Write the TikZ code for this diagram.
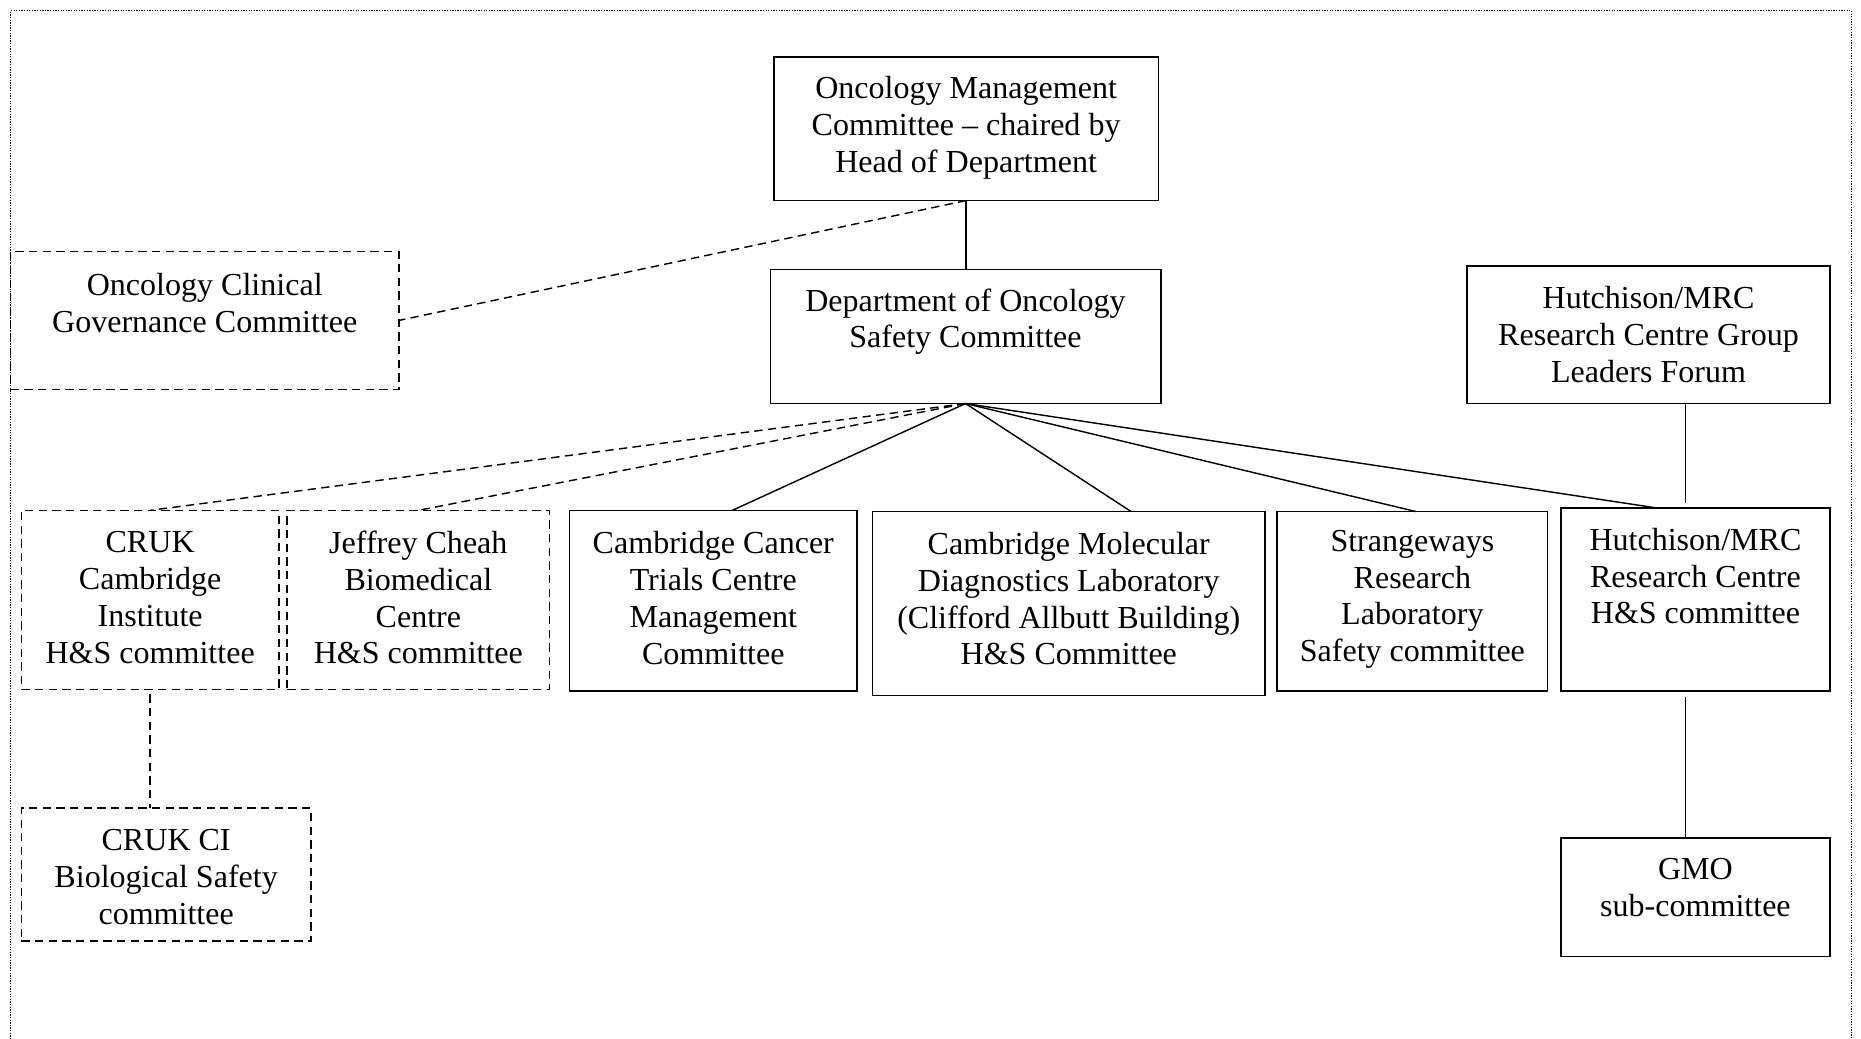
\documentclass[tikz,border=0pt]{standalone}
\usepackage{fontspec}
\setmainfont{Liberation Serif}
\begin{document}
\begin{tikzpicture}[x=1pt,y=-1pt,
  frame/.style={draw, line width=1.3pt, dash pattern=on 1.1pt off 1.1pt},
  box/.style={draw, line width=1.3pt, inner sep=0pt, outer sep=0pt},
  dbox/.style={box, dash pattern=on 7pt off 4.5pt},
  lbl/.style={align=center, inner sep=0pt, font=\fontsize{27}{31}\selectfont},
  link/.style={line width=1.2pt},
  dlink/.style={link, dash pattern=on 7pt off 4.5pt}]
\useasboundingbox (0,0) rectangle (1568,875);

% dotted page frame (open at the bottom)
\draw[frame] (9,880) -- (9,9) -- (1560,9) -- (1560,880);

% boxes
\node[box,  minimum width=324pt, minimum height=121pt] (omc)   at (814,108.5)  {};
\node[box,  minimum width=329pt, minimum height=113pt] (dosc)  at (813.5,283.5) {};
\node[dbox, minimum width=327pt, minimum height=116pt] (ocgc)  at (172.5,270)  {};
\node[box,  minimum width=306pt, minimum height=116pt] (forum) at (1389,282)   {};
\node[dbox, minimum width=217pt, minimum height=151pt] (cruk)  at (126.5,505.5) {};
\node[dbox, minimum width=221pt, minimum height=151pt] (jcbc)  at (352.5,505.5) {};
\node[box,  minimum width=242pt, minimum height=152pt] (cctc)  at (601,506)    {};
\node[box,  minimum width=331pt, minimum height=155pt] (cmdl)  at (900.5,508.5) {};
\node[box,  minimum width=228pt, minimum height=151pt] (srl)   at (1190,506.5) {};
\node[box,  minimum width=227pt, minimum height=154pt] (hmrc)  at (1428.5,505) {};
\node[dbox, minimum width=244pt, minimum height=112pt] (cci)   at (140,737)    {};
\node[box,  minimum width=227pt, minimum height=100pt] (gmo)   at (1428.5,756) {};

% labels
\node[lbl] (omc-t)   at (814,107.5)  {Oncology Management\\Committee -- chaired by\\Head of Department};
\node[lbl] (dosc-t)  at (813.5,271) {Department of Oncology\\Safety Committee};
\node[lbl] (ocgc-t)  at (172.5,255.5) {Oncology Clinical\\Governance Committee};
\node[lbl] (forum-t) at (1389,282)   {Hutchison/MRC\\Research Centre Group\\Leaders Forum};
\node[lbl] (cruk-t)  at (126.5,503.5) {CRUK\\Cambridge\\Institute\\H\&S committee};
\node[lbl] (jcbc-t)  at (352.5,503.5) {Jeffrey Cheah\\Biomedical\\Centre\\H\&S committee};
\node[lbl] (cctc-t)  at (601,504)  {Cambridge Cancer\\Trials Centre\\Management\\Committee};
\node[lbl] (cmdl-t)  at (900.5,504.5)  {Cambridge Molecular\\Diagnostics Laboratory\\(Clifford Allbutt Building)\\H\&S Committee};
\node[lbl] (srl-t)   at (1190,505)   {Strangeways\\Research\\Laboratory\\Safety committee};
\node[lbl] (hmrc-t)  at (1428.5,485.5) {Hutchison/MRC\\Research Centre\\H\&S committee};
\node[lbl] (cci-t)   at (140,739)  {CRUK CI\\Biological Safety\\committee};
\node[lbl] (gmo-t)   at (1428.5,748) {GMO\\sub-committee};

% connectors
\draw[link]  (omc.south) -- (omc.south |- dosc.north);
\draw[dlink] (omc.south) -- (ocgc.east);

\draw[dlink] (dosc.south) -- (cruk.north);
\draw[dlink] (dosc.south) -- (jcbc.north);
\draw[link]  (dosc.south) -- ([xshift=16pt]cctc.north);
\draw[link]  (dosc.south) -- ([xshift=52.5pt]cmdl.north);
\draw[link]  (dosc.south) -- ([xshift=3pt]srl.north);
\draw[link]  (dosc.south) -- ([xshift=-32.5pt]hmrc.north);

\draw[link, shorten >=4pt]  ([xshift=31pt]forum.south) -- ([xshift=31pt]forum.south |- hmrc.north);
\draw[link, shorten <=5pt]  ([xshift=-8.5pt]hmrc.south) -- ([xshift=-8.5pt]gmo.north);
\draw[dlink, shorten <=4pt] (cruk.south) -- (cruk.south |- cci.north);
\end{tikzpicture}
\end{document}
